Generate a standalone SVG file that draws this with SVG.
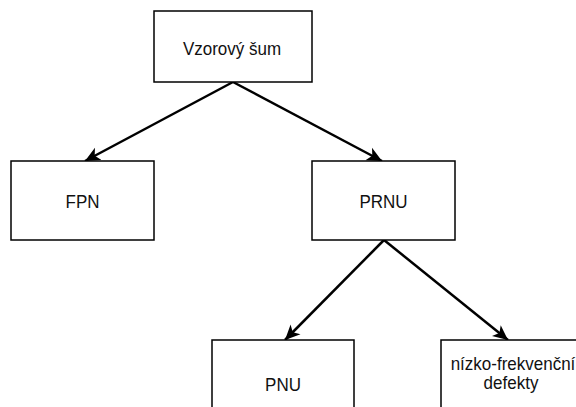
<svg xmlns="http://www.w3.org/2000/svg" width="576" height="407" viewBox="0 0 576 407">
<style>
.box{fill:#fff;stroke:#000;stroke-width:1.5}
.lbl{font-family:"Liberation Sans",Arial,sans-serif;font-size:17px;fill:#111;text-anchor:middle}
.edge{stroke:#000;stroke-width:2.5;fill:none}
</style>
<defs>
<marker id="arr" markerUnits="userSpaceOnUse" markerWidth="18" markerHeight="16" refX="15" refY="7" orient="auto" viewBox="0 0 18 14">
<path d="M0,0 L15,7 L0,14 L4,7 z" fill="#000"/>
</marker>
</defs>
<rect width="576" height="407" fill="#fff"/>
<g id="connectors">
<line class="edge" x1="233" y1="82" x2="85" y2="161" marker-end="url(#arr)"/>
<line class="edge" x1="233" y1="82" x2="382" y2="161" marker-end="url(#arr)"/>
<line class="edge" x1="384" y1="240" x2="285" y2="340" marker-end="url(#arr)"/>
<line class="edge" x1="384" y1="240" x2="508" y2="340" marker-end="url(#arr)"/>
</g>
<g id="vzorovy">
<rect class="box" x="154" y="11" width="158" height="71"/>
<text class="lbl" transform="translate(232,55) scale(1,1.1)">Vzorový šum</text>
</g>
<g id="fpn">
<rect class="box" x="11" y="161" width="143" height="79"/>
<text class="lbl" transform="translate(82.5,208) scale(1,1.1)">FPN</text>
</g>
<g id="prnu">
<rect class="box" x="312" y="161" width="143" height="79"/>
<text class="lbl" transform="translate(383.5,207.5) scale(1,1.1)">PRNU</text>
</g>
<g id="pnu">
<rect class="box" x="212" y="340" width="142" height="80"/>
<text class="lbl" transform="translate(283,391) scale(1,1.1)">PNU</text>
</g>
<g id="nizko">
<rect class="box" x="441" y="340" width="143" height="80"/>
<text class="lbl" transform="translate(513,370) scale(1,1.1)">nízko-frekvenční</text>
<text class="lbl" transform="translate(511,389) scale(1,1.1)">defekty</text>
</g>
</svg>
